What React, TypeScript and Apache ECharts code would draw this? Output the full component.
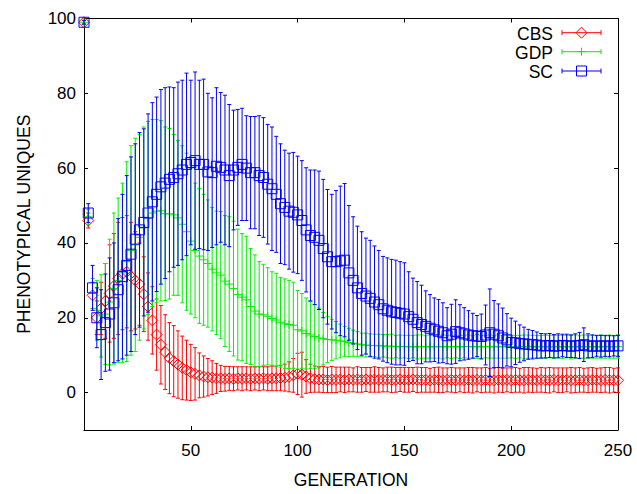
import React, { useEffect, useRef } from "react";
import * as echarts from "echarts";

// ---------- data ----------
const GENERATIONS: number[] = [
  0, 2, 4, 6, 8, 10, 12, 14, 16, 18,
  20, 22, 24, 26, 28, 30, 32, 34, 36, 38,
  40, 42, 44, 46, 48, 50, 52, 54, 56, 58,
  60, 62, 64, 66, 68, 70, 72, 74, 76, 78,
  80, 82, 84, 86, 88, 90, 92, 94, 96, 98,
  100, 102, 104, 106, 108, 110, 112, 114, 116, 118,
  120, 122, 124, 126, 128, 130, 132, 134, 136, 138,
  140, 142, 144, 146, 148, 150, 152, 154, 156, 158,
  160, 162, 164, 166, 168, 170, 172, 174, 176, 178,
  180, 182, 184, 186, 188, 190, 192, 194, 196, 198,
  200, 202, 204, 206, 208, 210, 212, 214, 216, 218,
  220, 222, 224, 226, 228, 230, 232, 234, 236, 238,
  240, 242, 244, 246, 248, 250,
];

const CBS_MEAN: number[] = [
  99, 46, 26, 20, 22.5, 24.5, 26.5, 28.5, 30.5, 31.8,
  32.3, 31, 30, 29, 26.3, 23, 19.3, 15.5, 12.8, 10.8,
  9.2, 8.4, 7.5, 6.6, 6, 5.4, 5, 4.6, 4.3, 4.1,
  4, 3.8, 3.8, 3.7, 3.8, 3.7, 3.8, 3.7, 3.8, 3.7,
  3.8, 3.7, 3.8, 3.7, 3.8, 3.8, 3.9, 4, 4.2, 4.6,
  5, 4.8, 4.3, 3.8, 3.6, 3.5, 3.5, 3.4, 3.5, 3.4,
  3.5, 3.4, 3.5, 3.4, 3.5, 3.4, 3.5, 3.4, 3.5, 3.4,
  3.4, 3.5, 3.4, 3.4, 3.5, 3.4, 3.4, 3.5, 3.4, 3.4,
  3.4, 3.3, 3.4, 3.4, 3.3, 3.4, 3.4, 3.3, 3.4, 3.3,
  3.4, 3.3, 3.4, 3.3, 3.4, 3.3, 3.3, 3.4, 3.3, 3.4,
  3.3, 3.4, 3.3, 3.3, 3.4, 3.3, 3.3, 3.4, 3.3, 3.3,
  3.4, 3.3, 3.3, 3.4, 3.3, 3.3, 3.4, 3.3, 3.3, 3.4,
  3.3, 3.3, 3.4, 3.3, 3.3, 3.3,
];
const CBS_ERR: number[] = [
  0.5, 2, 3.5, 4.5, 7, 10, 13, 14, 15, 15,
  15, 14.5, 13, 11, 10, 9, 9, 9.5, 10.5, 10,
  9.5, 9.5, 9, 8.5, 8, 7.5, 7, 6, 5.5, 5,
  4.5, 4, 3.5, 3.3, 3.2, 3.2, 3.1, 3.2, 3.1, 3.2,
  3.1, 3.2, 3.1, 3.2, 3.3, 3.3, 3.4, 3.6, 4, 4.5,
  5.5, 6, 4.5, 3.8, 3.5, 3.4, 3.5, 3.4, 3.5, 3.4,
  3.3, 3.4, 3.3, 3.2, 3.4, 3.3, 3.2, 3.3, 3.4, 3.3,
  3.2, 3.3, 3.4, 3.3, 3.2, 3.3, 3.3, 3.2, 3.4, 3.3,
  3.3, 3.2, 3.3, 3.4, 3.3, 3.2, 3.3, 3.3, 3.2, 3.3,
  3.3, 3.4, 3.2, 3.3, 3.3, 3.2, 3.4, 3.3, 3.3, 3.2,
  3.3, 3.3, 3.2, 3.4, 3.3, 3.3, 3.2, 3.3, 3.3, 3.4,
  3.2, 3.3, 3.3, 3.2, 3.4, 3.3, 3.3, 3.2, 3.3, 3.3,
  3.2, 3.3, 3.3, 3.4, 3.2, 3.3,
];

const GDP_MEAN: number[] = [
  99, 47, 26.5, 22, 20.5, 21, 24.2, 27.8, 30, 32,
  35, 38, 39.5, 41.5, 44, 46.7, 48, 48.5, 48.6, 47.8,
  47.8, 47.5, 46.7, 45, 43, 40.5, 38, 36.5, 35.5, 34.5,
  33, 32, 31.4, 29.8, 29, 27.8, 26.2, 25.5, 24.8, 23,
  21.8, 21, 20.8, 20.4, 19.8, 19.4, 18.8, 18.4, 18.2, 18,
  16.8, 16.5, 15.8, 15.4, 15, 14.6, 14.4, 14.2, 14.1, 14,
  13.8, 13.7, 13.4, 13.2, 13, 12.8, 12.7, 12.6, 12.6, 12.5,
  12.5, 12.4, 12.4, 12.3, 12.3, 12.3, 12.2, 12.3, 12.2, 12.3,
  12.2, 12.3, 12.2, 12.3, 12.2, 12.3, 12.2, 12.3, 12.2, 12.3,
  12.3, 12.2, 12.3, 12.2, 12.3, 12.3, 12.2, 12.3, 12.2, 12.3,
  12.3, 12.2, 12.3, 12.2, 12.3, 12.3, 12.2, 12.3, 12.2, 12.3,
  12.2, 12.3, 12.2, 12.3, 12.2, 12.3, 12.2, 12.3, 12.2, 12.3,
  12.2, 12.3, 12.2, 12.3, 12.2, 12.3,
];
const GDP_ERR: number[] = [
  0.5, 2, 4, 8, 11, 13.5, 16.8, 20.2, 22, 24,
  26.7, 28, 28.5, 27.5, 27, 25.8, 25, 24.5, 24.1, 23.2,
  22.8, 21.5, 20.7, 21, 21, 19.5, 18, 18, 17.5, 17,
  16.5, 16.5, 17, 17.5, 18, 18, 17.5, 17, 17, 15.5,
  15, 14, 13.5, 13, 12.5, 12.5, 12, 12, 11.8, 11.5,
  10.5, 10, 9.5, 9, 8.5, 8, 7, 6.2, 5.5, 5,
  4.5, 4, 3.8, 3.5, 3.3, 3.1, 3.2, 3.1, 3, 3.1,
  3, 3.1, 3.2, 3, 3.1, 3, 3.1, 3, 3.2, 3.1,
  3, 3.1, 3, 3.1, 3.2, 3, 3.1, 3, 3.1, 3,
  3.1, 3, 3.2, 3.1, 3, 3.1, 3, 3.1, 3, 3.1,
  3, 3.1, 3, 3.2, 3.1, 3, 3.1, 3, 3.1, 3,
  3.1, 3, 3.1, 3, 3.2, 3.1, 3, 3.1, 3, 3.1,
  3, 3.1, 3, 3.1, 3, 3.1,
];

const SC_MEAN: number[] = [
  99, 48, 28, 20, 15.5, 18.7, 21, 24, 27.5, 31,
  34, 37, 41, 43.5, 45.5, 48, 51, 53, 55, 56,
  57, 57.5, 58.5, 59.5, 61, 61.5, 62, 61, 61, 59,
  58.8, 60.5, 60.2, 59.5, 58, 59.5, 60.2, 61, 60, 58.8,
  58.8, 58, 57.5, 55.7, 54.5, 53, 50.5, 49.5, 48.5, 48.2,
  47.5, 46, 43.5, 42, 41.5, 40.7, 38.5, 36.3, 35, 35,
  35.2, 35.4, 32, 30, 28, 26.5, 25.8, 25.2, 24.2, 23.5,
  22.4, 22, 21.6, 21.4, 21.2, 21, 20.3, 19.6, 18.7, 18.2,
  17.7, 17.2, 16.8, 16.4, 16, 15.2, 15.6, 16.3, 16, 15.7,
  15.4, 15.2, 15.1, 15, 15.4, 16, 15.6, 15.2, 14.6, 14.1,
  13.4, 13.3, 13.1, 13, 12.9, 12.8, 12.7, 12.5, 12.5, 12.6,
  12.4, 12.5, 12.6, 12.5, 12.4, 12.5, 12.6, 12.8, 12.5, 12.4,
  12.5, 12.4, 12.5, 12.4, 12.5, 12.5,
];
const SC_ERR: number[] = [
  0.5, 2.5, 6, 8, 12, 13, 15, 16, 19, 22,
  24, 26, 25.5, 26, 25, 26.5, 26.5, 26, 26, 25.5,
  24.7, 24, 24.5, 24, 24.4, 22, 23.7, 22.5, 22.8, 21,
  20, 21, 20, 20, 19, 16, 15.5, 15, 14, 15,
  15, 16, 16, 16, 16.5, 15.5, 16, 15.3, 15.5, 16,
  15.7, 16, 16.6, 17.5, 18, 18.5, 18.5, 18, 18, 19,
  20, 20.5, 18, 17, 16.5, 16.5, 15.5, 15.5, 15, 14.5,
  14, 14, 14, 14, 13.8, 13.7, 12, 11, 11, 10.5,
  9.5, 9, 8.5, 8.5, 8, 7.5, 8, 8.5, 7.5, 7,
  6.5, 6, 5.5, 6, 8, 11.7, 9, 8.5, 8, 7,
  6.5, 5.8, 5, 4.5, 4, 3.8, 3.5, 3.3, 3.2, 3.2,
  3.1, 3.2, 3, 3.1, 3, 3.2, 3.5, 4.5, 3.2, 3,
  2.8, 2.9, 2.8, 2.8, 2.7, 2.8,
];

const SERIES_NAMES = ["CBS", "GDP", "SC"];
const Y_TICKS = [0, 20, 40, 60, 80, 100];

// ---------- styling ----------
const FONT = '"Liberation Sans", Arial, Helvetica, sans-serif';
const RED = "#ff0000";
const GREEN = "#00f000";
const BLUE = "#0000ff";

type Marker = "diamond" | "plus" | "square";

function markerShape(marker: Marker, cx: number, cy: number, color: string): any[] {
  const st = { stroke: color, lineWidth: 1, fill: "none" };
  if (marker === "diamond") {
    const r = 5.5;
    return [{ type: "polygon", shape: { points: [[cx, cy - r], [cx + r, cy], [cx, cy + r], [cx - r, cy]] }, style: st }];
  }
  if (marker === "square") {
    const h = 5;
    return [{ type: "rect", shape: { x: cx - h, y: cy - h, width: 2 * h, height: 2 * h }, style: st }];
  }
  const a = 4;
  return [
    { type: "line", shape: { x1: cx - a, y1: cy, x2: cx + a, y2: cy }, style: st },
    { type: "line", shape: { x1: cx, y1: cy - a, x2: cx, y2: cy + a }, style: st },
  ];
}

function buildSeries(name: string, color: string, marker: Marker, mean: number[], err: number[], z: number) {
  const data = GENERATIONS.map((g, i) => [g, mean[i], mean[i] - err[i], mean[i] + err[i]]);
  return {
    type: "custom",
    name,
    z,
    clip: false,
    encode: { x: 0, y: 1 },
    data,
    renderItem: (_params: any, api: any) => {
      const x = api.value(0);
      const pm = api.coord([x, api.value(1)]);
      const pl = api.coord([x, api.value(2)]);
      const ph = api.coord([x, api.value(3)]);
      const cx = pm[0];
      const cap = 2;
      const st = { stroke: color, lineWidth: 1 };
      const children: any[] = [
        { type: "line", shape: { x1: cx, y1: pl[1], x2: cx, y2: ph[1] }, style: st },
        { type: "line", shape: { x1: cx - cap, y1: pl[1], x2: cx + cap, y2: pl[1] }, style: st },
        { type: "line", shape: { x1: cx - cap, y1: ph[1], x2: cx + cap, y2: ph[1] }, style: st },
        ...markerShape(marker, cx, pm[1], color),
      ];
      return { type: "group", children };
    },
  };
}

function legendGraphic(): any[] {
  const rows: [string, string, Marker, number][] = [
    [SERIES_NAMES[0], RED, "diamond", 32.7],
    [SERIES_NAMES[1], GREEN, "plus", 51.7],
    [SERIES_NAMES[2], BLUE, "square", 71],
  ];
  const out: any[] = [];
  const x1 = 562, x2 = 601, mx = 581.5;
  for (const [name, color, marker, y] of rows) {
    out.push({
      type: "text",
      x: 553,
      y: y + 1,
      style: { text: name, fill: "#000", font: `17.5px ${FONT}`, textAlign: "right", textVerticalAlign: "middle" },
    });
    const st = { stroke: color, lineWidth: 1 };
    out.push({ type: "line", shape: { x1, y1: y, x2, y2: y }, style: st });
    out.push({ type: "line", shape: { x1, y1: y - 2.5, x2: x1, y2: y + 2.5 }, style: st });
    out.push({ type: "line", shape: { x1: x2, y1: y - 2.5, x2, y2: y + 2.5 }, style: st });
    for (const m of markerShape(marker, mx, y, color)) out.push(m);
  }
  return out;
}

const axisLineStyle = { show: true, onZero: false, lineStyle: { color: "#000", width: 1 } };
const tickStyle = { show: true, inside: true, length: 4, lineStyle: { color: "#000", width: 1 } };

export default function App() {
  const ref = useRef<HTMLDivElement>(null);
  useEffect(() => {
    if (!ref.current) return;
    const chart = echarts.init(ref.current, undefined, { renderer: "svg" });
    chart.setOption({
      animation: false,
      backgroundColor: "#fff",
      grid: { left: 84, right: 19, top: 18.5, bottom: 60, containLabel: false },
      xAxis: [
        {
          type: "value",
          min: 0,
          max: 250,
          interval: 50,
          position: "bottom",
          axisLine: axisLineStyle,
          axisTick: tickStyle,
          splitLine: { show: false },
          axisLabel: { showMinLabel: false, color: "#000", fontSize: 17, fontFamily: FONT, margin: 12 },
          name: "GENERATION",
          nameLocation: "middle",
          nameGap: 41,
          nameTextStyle: { color: "#000", fontSize: 17.5, fontFamily: FONT },
        },
        {
          type: "value",
          min: 0,
          max: 250,
          interval: 50,
          position: "top",
          axisLine: axisLineStyle,
          axisTick: tickStyle,
          splitLine: { show: false },
          axisLabel: { show: false },
        },
      ],
      yAxis: [
        {
          type: "value",
          min: -10,
          max: 100,
          position: "left",
          axisLine: axisLineStyle,
          axisTick: { ...tickStyle, customValues: Y_TICKS },
          splitLine: { show: false },
          axisLabel: {
            customValues: Y_TICKS,
            color: "#000",
            fontSize: 17,
            fontFamily: FONT,
            margin: 8,
            padding: [0, 0, 4, 0],
          },
          name: "PHENOTYPICAL UNIQUES",
          nameLocation: "middle",
          nameGap: 51,
          nameTextStyle: { color: "#000", fontSize: 17.5, fontFamily: FONT },
        },
        {
          type: "value",
          min: -10,
          max: 100,
          position: "right",
          axisLine: axisLineStyle,
          axisTick: { ...tickStyle, customValues: Y_TICKS },
          splitLine: { show: false },
          axisLabel: { show: false },
        },
      ],
      series: [
        buildSeries(SERIES_NAMES[0], RED, "diamond", CBS_MEAN, CBS_ERR, 2),
        buildSeries(SERIES_NAMES[1], GREEN, "plus", GDP_MEAN, GDP_ERR, 3),
        buildSeries(SERIES_NAMES[2], BLUE, "square", SC_MEAN, SC_ERR, 4),
      ],
      graphic: legendGraphic(),
    });
    return () => chart.dispose();
  }, []);
  return (
    <div
      ref={ref}
      style={{ position: "absolute", left: 0, top: 0, width: 637, height: 494, background: "#fff" }}
    />
  );
}
